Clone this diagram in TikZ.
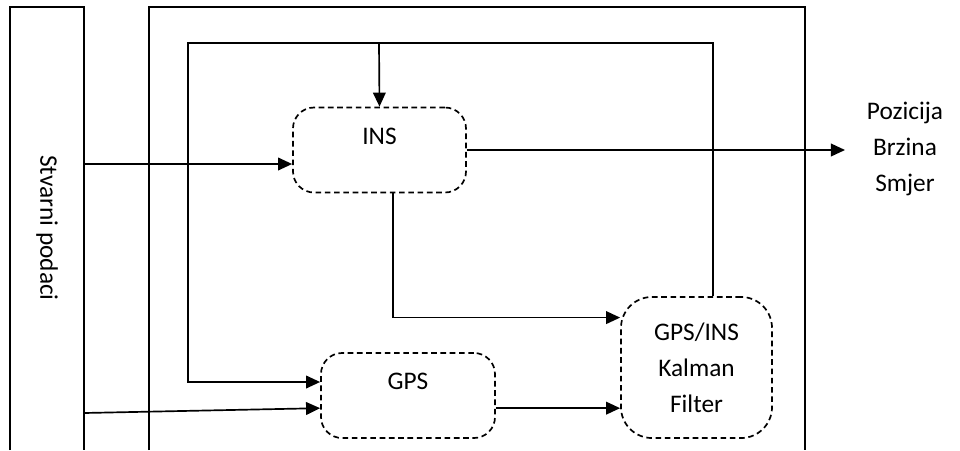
\documentclass[tikz,border=0pt]{standalone}
\usepackage{fontspec}
\setmainfont{Carlito}
\usetikzlibrary{arrows.meta}

\begin{document}
\begin{tikzpicture}[x=0.025cm, y=-0.025cm, line width=1.2pt, font=\fontsize{18}{25.6}\selectfont,
    block/.style={draw, dash pattern=on 4pt off 2.6pt, inner sep=0pt, align=center},
    flow/.style={-{Triangle[length=10pt, width=9pt]}}]
    \useasboundingbox (0,0) rectangle (960,450);

    % Frames
    \draw (10,450) |- (84,7) -- (84,450);
    \draw (149,450) |- (805,7) -- (805,450);
    \node[rotate=-90] (data) at (47,228) {Stvarni podaci};

    % Blocks
    \node[block, rounded corners=15pt, minimum width=4.325cm, minimum height=2.125cm, text height=0.4cm, text depth=0.7cm] (INS) at (379.5,150) {INS};
    \node[block, rounded corners=15pt, minimum width=4.35cm, minimum height=2.125cm, text height=0.4cm, text depth=0.7cm] (GPS) at (408,395.5) {GPS};
    \node[block, rounded corners=22pt, minimum width=3.775cm, minimum height=3.525cm] (Kalman) at (696.5,367.5) {GPS/INS\\Kalman\\Filter};
    \node[align=center] (out) at (905,149) {Pozicija\\Brzina\\Smjer};

    \coordinate (in1) at (84,164);
    \coordinate (in2) at (84,413);
    \coordinate (top) at (379,43);
    \coordinate (outtip) at (845,152);
    \coordinate (g) at ([yshift=-9pt]GPS.east);

    % Connections
    \draw[flow] (in1) -- (INS.west |- in1);
    \draw[flow] (in2) -- ([yshift=-9pt]GPS.west);
    \draw[flow] (g) -- (g -| Kalman.west);
    \draw[flow] ([xshift=9.6pt]INS.south) |- ([yshift=35.5pt]Kalman.west);
    \draw[flow] (INS.east) -- (INS.east -| outtip);
    \draw[flow] ([xshift=11.7pt]Kalman.north) |- (188,43) |- ([yshift=9.6pt]GPS.west);
    \draw[flow] (top) -- (INS.north);
\end{tikzpicture}
\end{document}
